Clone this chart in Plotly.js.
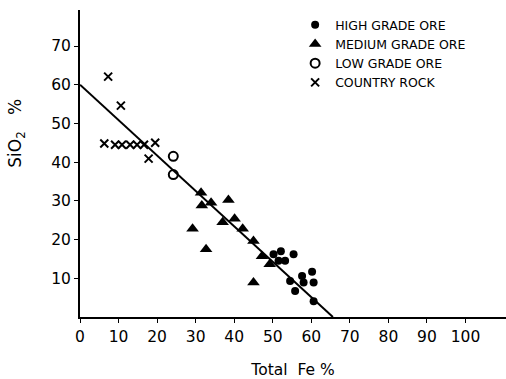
<!DOCTYPE html>
<html>
<head>
<meta charset="utf-8">
<script src="https://cdn.plot.ly/plotly-3.0.1.min.js"></script>
<style>html,body{margin:0;padding:0;background:#fff;}#chart{width:506px;height:379px;}</style>
</head>
<body>
<div id="chart"></div>
<script>
// Total Fe % (x) and SiO2 % (y) for each rock class
const highFe = [50.2, 52.1, 55.4, 51.5, 53.2, 57.6, 60.2, 54.5, 58.0, 60.6, 55.8, 60.6];
const highSi = [16.2, 17.0, 16.2, 14.5, 14.5, 10.6, 11.7, 9.3, 8.9, 8.9, 6.7, 4.1];

const medFe = [31.4, 31.6, 34.0, 38.5, 29.2, 32.7, 37.0, 40.1, 42.2, 45.0, 47.2, 49.2, 45.0];
const medSi = [32.1, 28.8, 29.5, 30.2, 22.8, 17.5, 24.5, 25.4, 22.8, 19.6, 15.7, 13.6, 8.9];

const lowFe = [24.2, 24.2];
const lowSi = [41.5, 36.8];

const rockFe = [7.3, 10.6, 6.3, 9.1, 10.9, 13.0, 14.8, 16.6, 19.5, 17.8];
const rockSi = [62.1, 54.6, 44.8, 44.5, 44.5, 44.5, 44.5, 44.5, 45.0, 40.9];

const fitFe = [0, 65.6];
const fitSi = [60, 0];

const legendNames = ["HIGH GRADE ORE", "MEDIUM GRADE ORE", "LOW GRADE ORE", "COUNTRY ROCK"];
const xTickVals = [0, 10, 20, 30, 40, 50, 60, 70, 80, 90, 100];
const yTickVals = [10, 20, 30, 40, 50, 60, 70];

const traces = [
  {x: highFe, y: highSi, mode: "markers", type: "scatter", name: legendNames[0],
   marker: {symbol: "circle", size: 8, color: "#000"}},
  {x: medFe, y: medSi, mode: "markers", type: "scatter", name: legendNames[1],
   marker: {symbol: "triangle-up", size: 11, color: "#000"}},
  {x: lowFe, y: lowSi, mode: "markers", type: "scatter", name: legendNames[2],
   marker: {symbol: "circle-open", size: 9, color: "#000", line: {width: 2, color: "#000"}}},
  {x: rockFe, y: rockSi, mode: "markers", type: "scatter", name: legendNames[3],
   marker: {symbol: "x-thin", size: 8, color: "#000", line: {width: 2, color: "#000"}}},
  {x: fitFe, y: fitSi, mode: "lines", type: "scatter", showlegend: false,
   line: {color: "#000", width: 2}, hoverinfo: "skip"}
];

const layout = {
  width: 506, height: 379,
  margin: {l: 80, r: 0, t: 10, b: 62},
  paper_bgcolor: "#fff", plot_bgcolor: "#fff",
  font: {family: "DejaVu Sans, sans-serif", color: "#000", size: 15},
  showlegend: true,
  legend: {x: 0.505, y: 1.0, xanchor: "left", yanchor: "top",
    font: {size: 12.5, family: "DejaVu Sans, sans-serif", color: "#000"},
    bgcolor: "rgba(0,0,0,0)", tracegroupgap: 0},
  xaxis: {range: [0, 110.5], showgrid: false, zeroline: false,
    showline: true, linecolor: "#000", linewidth: 2,
    ticks: "outside", ticklen: 4, tickwidth: 1, tickcolor: "#000",
    tickvals: xTickVals, ticktext: xTickVals.map(String),
    tickfont: {size: 15.5},
    title: {text: "Total  Fe %", font: {size: 15.5}, standoff: 20}},
  yaxis: {range: [0, 79.3], showgrid: false, zeroline: false,
    showline: true, linecolor: "#000", linewidth: 2,
    ticks: "outside", ticklen: 4, tickwidth: 1, tickcolor: "#000",
    tickvals: yTickVals, ticktext: yTickVals.map(String),
    tickfont: {size: 15.5}},
  annotations: [{
    text: "SiO<sub>2</sub>   %", xref: "paper", yref: "paper",
    x: -0.148, y: 0.6, xanchor: "center", yanchor: "middle",
    showarrow: false, textangle: -90,
    font: {size: 17, color: "#000"}
  }]
};

Plotly.newPlot("chart", traces, layout, {displayModeBar: false, staticPlot: true});
</script>
</body>
</html>
